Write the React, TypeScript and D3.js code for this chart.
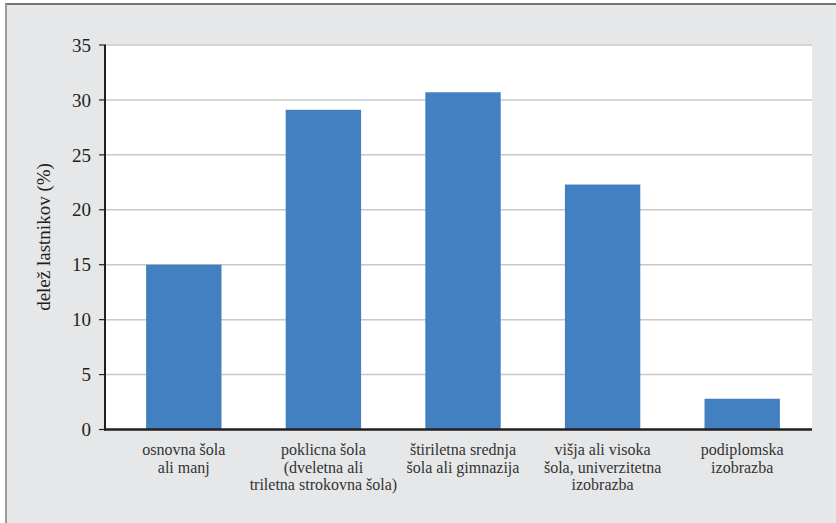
import React from "react";
import * as d3 from "d3";

const categories: string[][] = [
  ["osnovna šola", "ali manj"],
  ["poklicna šola", "(dveletna ali", "triletna strokovna šola)"],
  ["štiriletna srednja", "šola ali gimnazija"],
  ["višja ali visoka", "šola, univerzitetna", "izobrazba"],
  ["podiplomska", "izobrazba"],
];
const values: number[] = [15.0, 29.1, 30.7, 22.3, 2.8];
const yTicks: number[] = [0, 5, 10, 15, 20, 25, 30, 35];
const yLabel = "delež lastnikov (%)";

const W = 836;
const H = 523;
const plotLeft = 106;
const plotRight = 812;
const plotTop = 45;
const plotBottom = 429.5;
const FONT = "'Liberation Serif', 'DejaVu Serif', serif";

export default function App() {
  const ids = categories.map((_, i) => String(i));
  const x = d3
    .scaleBand<string>()
    .domain(ids)
    .range([114, plotRight])
    .paddingInner(0.46)
    .paddingOuter(0.23);
  const y = d3.scaleLinear().domain([0, 35]).range([plotBottom, plotTop]);

  return (
    <svg
      width={W}
      height={H}
      style={{ position: "absolute", left: 0, top: 0, display: "block" }}
    >
      <rect x={0} y={0} width={W} height={H} fill="#ffffff" />
      <rect x={6} y={4} width={W - 6} height={H - 4} fill="#e6e7e8" />
      <line x1={5} x2={W} y1={4} y2={4} stroke="#4a4a4a" strokeWidth={1.5} />
      <line x1={6} x2={6} y1={4} y2={H} stroke="#9a9a9a" strokeWidth={2} />
      <rect
        x={plotLeft}
        y={plotTop}
        width={plotRight - plotLeft}
        height={plotBottom - plotTop}
        fill="#ffffff"
      />
      {yTicks.map((t) => (
        <g key={t}>
          {t > 0 && (
            <line
              x1={plotLeft}
              x2={plotRight}
              y1={y(t)}
              y2={y(t)}
              stroke="#c8c8c8"
              strokeWidth={1.5}
            />
          )}
          <line
            x1={99}
            x2={plotLeft}
            y1={y(t)}
            y2={y(t)}
            stroke="#231f20"
            strokeWidth={1.2}
          />
          <text
            x={91}
            y={y(t)}
            dy="0.35em"
            textAnchor="end"
            fontFamily={FONT}
            fontSize={19}
            fill="#231f20"
          >
            {t}
          </text>
        </g>
      ))}
      {values.map((v, i) => (
        <rect
          key={i}
          x={x(String(i))}
          y={y(v)}
          width={x.bandwidth()}
          height={y(0) - y(v)}
          fill="#4380c2"
        />
      ))}
      <line
        x1={105}
        x2={105}
        y1={plotTop}
        y2={plotBottom + 1}
        stroke="#231f20"
        strokeWidth={2}
      />
      <line
        x1={104}
        x2={plotRight}
        y1={plotBottom}
        y2={plotBottom}
        stroke="#231f20"
        strokeWidth={2.5}
      />
      {categories.map((lines, i) => (
        <text
          key={i}
          x={(x(String(i)) as number) + x.bandwidth() / 2}
          y={455}
          textAnchor="middle"
          fontFamily={FONT}
          fontSize={16}
          fill="#333333"
        >
          {lines.map((l, j) => (
            <tspan key={j} x={(x(String(i)) as number) + x.bandwidth() / 2} dy={j === 0 ? 0 : 17.5}>
              {l}
            </tspan>
          ))}
        </text>
      ))}
      <text
        transform={`translate(50, 237) rotate(-90)`}
        textAnchor="middle"
        fontFamily={FONT}
        fontSize={19}
        fill="#231f20"
      >
        {yLabel}
      </text>
    </svg>
  );
}
